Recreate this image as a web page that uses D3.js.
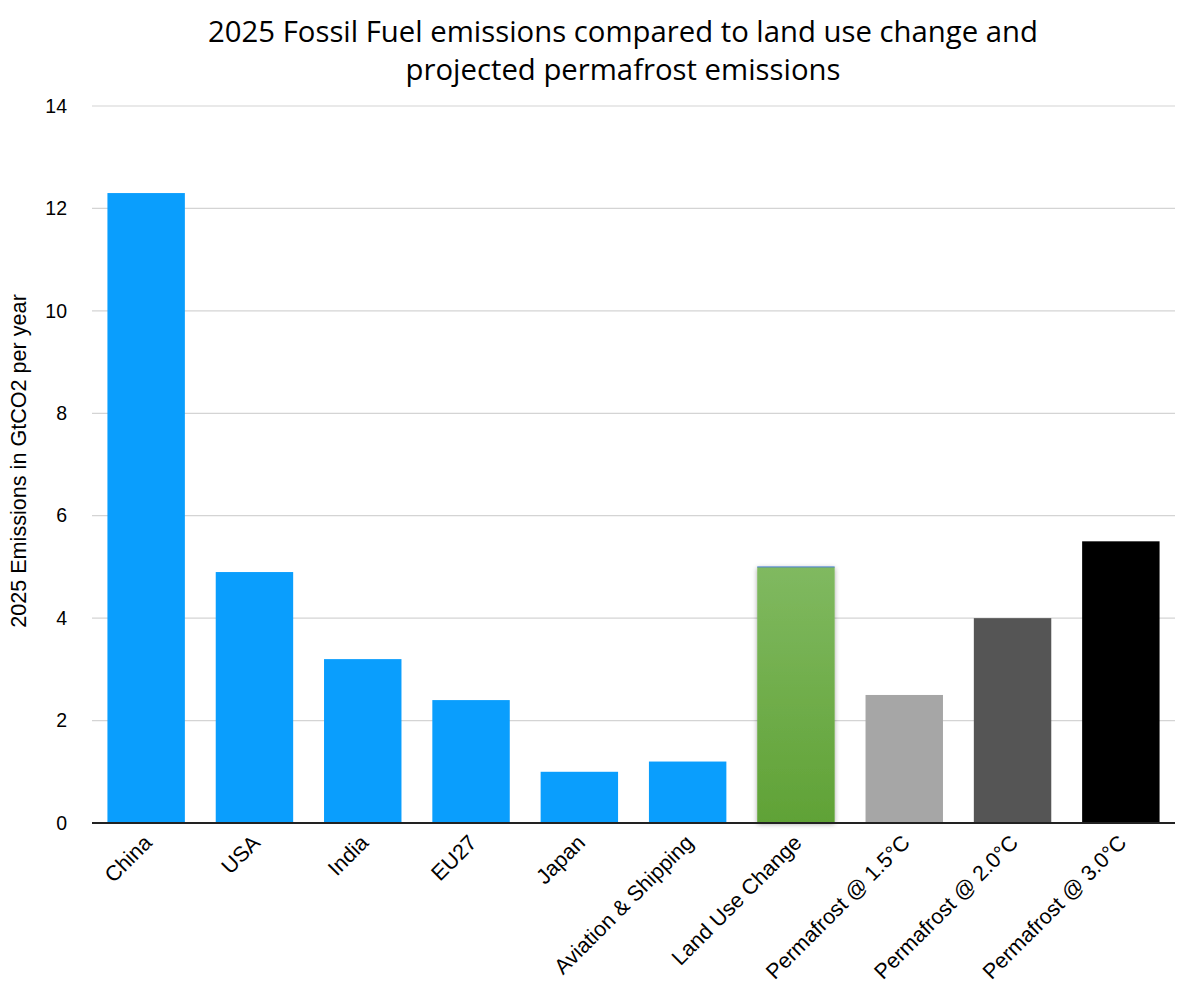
<!DOCTYPE html>
<html>
<head>
<meta charset="utf-8">
<script src="https://cdn.jsdelivr.net/npm/d3@7"></script>
<style>
  body { margin: 0; background: #fff; }
  svg { display: block; }
</style>
</head>
<body>
<svg width="1190" height="1000"></svg>
<script>
var categories = ["China", "USA", "India", "EU27", "Japan", "Aviation & Shipping",
    "Land Use Change", "Permafrost @ 1.5\u00B0C", "Permafrost @ 2.0\u00B0C", "Permafrost @ 3.0\u00B0C"];
var emissions = [12.3, 4.9, 3.2, 2.4, 1.0, 1.2, 5.0, 2.5, 4.0, 5.5];
var barColors = ["#0a9efd", "#0a9efd", "#0a9efd", "#0a9efd", "#0a9efd", "#0a9efd",
    "url(#greenGrad)", "#a6a6a6", "#555555", "#000000"];
var yTicks = [0, 2, 4, 6, 8, 10, 12, 14];

var svg = d3.select("svg");
var plotLeft = 92, plotRight = 1175, plotTop = 106, plotBottom = 823;

var defs = svg.append("defs");
var grad = defs.append("linearGradient").attr("id", "greenGrad")
    .attr("x1", 0).attr("y1", 0).attr("x2", 0).attr("y2", 1);
grad.append("stop").attr("offset", "0%").attr("stop-color", "#80b960");
grad.append("stop").attr("offset", "100%").attr("stop-color", "#60a236");
var shadow = defs.append("filter").attr("id", "shadow")
    .attr("x", "-20%").attr("y", "-5%").attr("width", "140%").attr("height", "110%");
shadow.append("feDropShadow").attr("dx", 0).attr("dy", 1).attr("stdDeviation", 2.5)
    .attr("flood-color", "#000").attr("flood-opacity", 0.35);

var xScale = d3.scaleBand().domain(categories).range([plotLeft, plotRight])
    .paddingInner(0.285).paddingOuter(0.1425);
var yScale = d3.scaleLinear().domain([0, 14]).range([plotBottom, plotTop]);

// title
svg.append("text")
    .attr("x", 623).attr("text-anchor", "middle")
    .attr("font-family", "'Open Sans', sans-serif").attr("font-size", "29.3px")
    .attr("fill", "#000")
    .selectAll("tspan")
    .data(["2025 Fossil Fuel emissions compared to land use change and", "projected permafrost emissions"])
    .enter().append("tspan")
    .attr("x", 623)
    .attr("y", function (d, i) { return 42 + i * 38; })
    .text(function (d) { return d; });

// gridlines
svg.append("g").selectAll("line")
    .data(yTicks.slice(1))
    .enter().append("line")
    .attr("x1", plotLeft).attr("x2", plotRight)
    .attr("y1", function (d) { return yScale(d); })
    .attr("y2", function (d) { return yScale(d); })
    .attr("stroke", "#d4d4d4").attr("stroke-width", 1.2);

// y axis labels
var yAxis = svg.append("g")
    .attr("transform", "translate(" + plotLeft + ",0)")
    .call(d3.axisLeft(yScale).tickValues(yTicks).tickSize(0).tickPadding(25));
yAxis.select(".domain").remove();
yAxis.selectAll("text")
    .attr("font-family", "'Liberation Sans', Arial, sans-serif")
    .attr("font-size", "19.5px").attr("fill", "#000");

svg.append("text")
    .attr("transform", "translate(26," + 461 + ") rotate(-90)")
    .attr("text-anchor", "middle")
    .attr("font-family", "'Liberation Sans', Arial, sans-serif")
    .attr("font-size", "21.6px").attr("fill", "#000")
    .text("2025 Emissions in GtCO2 per year");

// bars
svg.append("g").selectAll("rect")
    .data(emissions)
    .enter().append("rect")
    .attr("x", function (d, i) { return xScale(categories[i]); })
    .attr("y", function (d) { return yScale(d); })
    .attr("width", xScale.bandwidth())
    .attr("height", function (d) { return plotBottom - yScale(d); })
    .attr("fill", function (d, i) { return barColors[i]; })
    .attr("filter", function (d, i) { return i === 6 ? "url(#shadow)" : null; });

// thin blue top edge on land use bar
svg.append("line")
    .attr("x1", xScale(categories[6])).attr("x2", xScale(categories[6]) + xScale.bandwidth())
    .attr("y1", yScale(emissions[6])).attr("y2", yScale(emissions[6]))
    .attr("stroke", "#4a7fd8").attr("stroke-width", 1);

// x axis
var xAxis = svg.append("g")
    .attr("transform", "translate(0," + plotBottom + ")")
    .call(d3.axisBottom(xScale).tickSize(0).tickPadding(0));
xAxis.select(".domain").attr("stroke", "#222").attr("stroke-width", 2)
    .attr("d", "M" + plotLeft + ",0H" + plotRight);
xAxis.selectAll("text")
    .attr("font-family", "'Liberation Sans', Arial, sans-serif")
    .attr("font-size", "21.5px").attr("fill", "#000")
    .attr("text-anchor", "end")
    .attr("dy", "0")
    .attr("transform", "translate(7,21) rotate(-45)");
</script>
</body>
</html>
